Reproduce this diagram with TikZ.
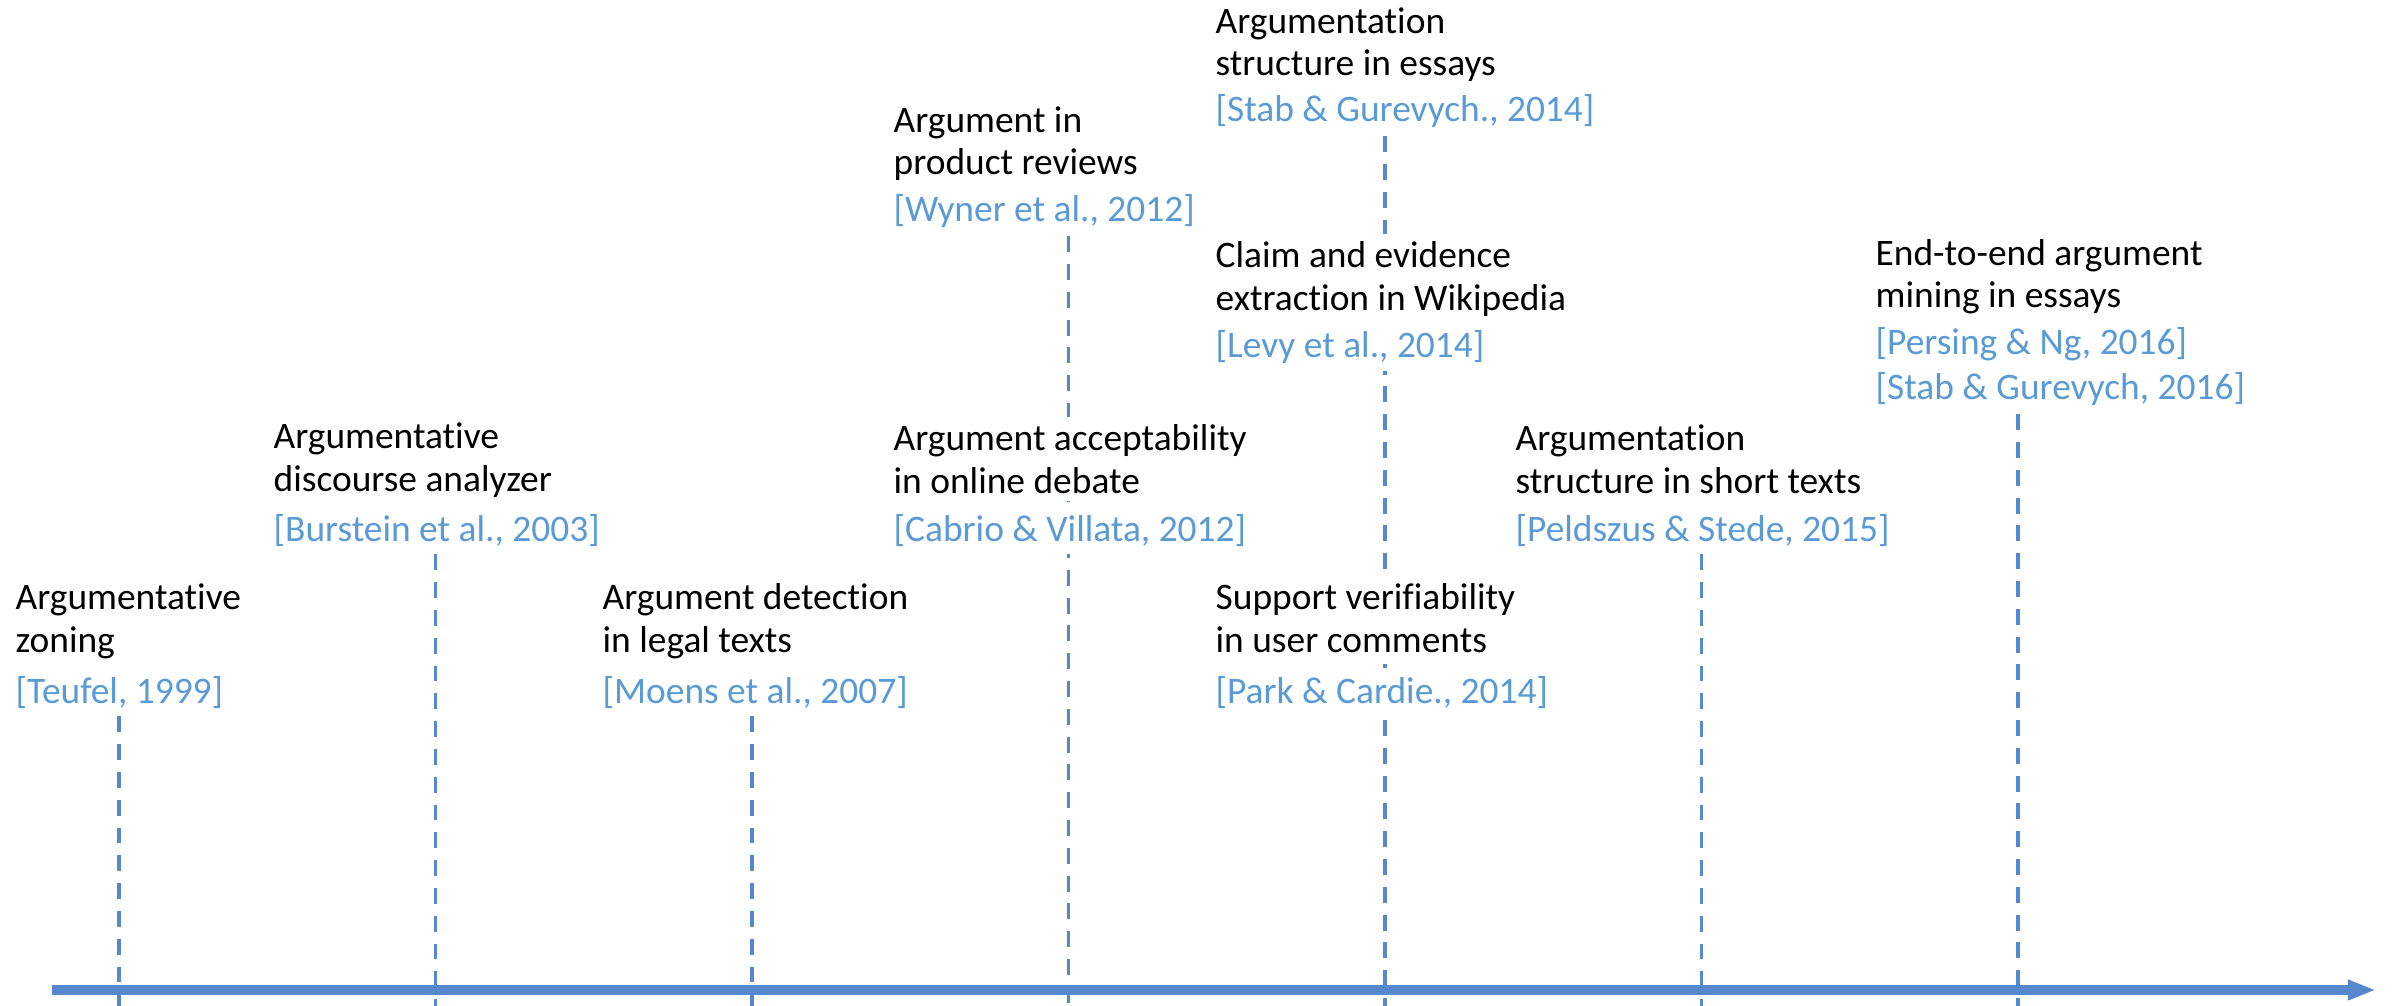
\documentclass[tikz,border=0pt]{standalone}
\usepackage{fontspec}
\setmainfont{Carlito}[Ligatures=NoCommon]
\usetikzlibrary{arrows.meta,backgrounds}
\definecolor{lineblue}{HTML}{5588CC}
\definecolor{citeblue}{HTML}{5B9BD5}
\tikzset{
  topic/.style={anchor=base west, align=left, fill=white, inner xsep=1pt,
    inner ysep=2.5pt, font=\fontsize{12.25pt}{13.75pt}\selectfont},
  citation/.style={topic, text=citeblue},
  yearline/.style={lineblue, line width=1.2pt, dash pattern=on 5.2pt off 3.9pt},
  timeline/.style={lineblue, line width=3.3pt, -{Triangle[length=9.2pt,width=6.2pt]}}
}
\begin{document}
\begin{tikzpicture}[x=0.32735pt, y=-0.32735pt]
    \useasboundingbox (0,0) rectangle (2395,1006);
    % one mark per step on the time axis
    \coordinate (m1) at (119,1006);
    \coordinate (m2) at (435.5,1006);
    \coordinate (m3) at (752,1006);
    \coordinate (m4) at (1068.5,1006);
    \coordinate (m5) at (1385,1006);
    \coordinate (m6) at (1701.5,1006);
    \coordinate (m7) at (2018,1006);
    \coordinate (start) at (52,990);
    \coordinate (end) at (2376,990);
    % first step (base = last line)
    \node[topic] (zoning) at (12,652) {Argumentative\\zoning};
    \node[citation] (teufel) at (12,703) {[Teufel, 1999]};
    % second step
    \node[topic] (discourse) at (270,491) {Argumentative\\discourse analyzer};
    \node[citation] (burstein) at (270,541) {[Burstein et al., 2003]};
    % third step
    \node[topic] (legal) at (599,652) {Argument detection\\in legal texts};
    \node[citation] (moens) at (599,703) {[Moens et al., 2007]};
    % fourth step: two works
    \node[topic] (reviews) at (890,175) {Argument in\\product reviews};
    \node[citation] (wyner) at (890,222) {[Wyner et al., 2012]};
    \node[topic] (debate) at (890,493) {Argument acceptability\\in online debate};
    \node[citation] (cabrio) at (890,541) {[Cabrio \& Villata, 2012]};
    % fifth step: three works
    \node[topic] (essays) at (1212,76) {Argumentation\\structure in essays};
    \node[citation] (stab) at (1212,122) {[Stab \& Gurevych., 2014]};
    \node[topic] (wiki) at (1212,310) {Claim and evidence\\extraction in Wikipedia};
    \node[citation] (levy) at (1212,357) {[Levy et al., 2014]};
    \node[topic] (comments) at (1212,652) {Support verifiability\\in user comments};
    \node[citation] (park) at (1212,703) {[Park \& Cardie., 2014]};
    % sixth step
    \node[topic] (shorttexts) at (1512,493) {Argumentation\\structure in short texts};
    \node[citation] (peldszus) at (1512,541) {[Peldszus \& Stede, 2015]};
    % seventh step
    \node[topic] (endtoend) at (1872,308) {End-to-end argument\\mining in essays};
    \node[citation] (persing) at (1872,400) {[Persing \& Ng, 2016]\\[1pt][Stab \& Gurevych, 2016]};
    % dashed marks behind the texts, then the axis
    \begin{scope}[on background layer]
      \draw[yearline] (teufel.south -| m1) -- (m1);
      \draw[yearline] (burstein.south -| m2) -- (m2);
      \draw[yearline] (moens.south -| m3) -- (m3);
      \draw[yearline] (wyner.south -| m4) -- (m4);
      \draw[yearline] (stab.south -| m5) -- (m5);
      \draw[yearline] (peldszus.south -| m6) -- (m6);
      \draw[yearline] (persing.south -| m7) -- (m7);
      \draw[timeline] (start) -- (end);
    \end{scope}
\end{tikzpicture}
\end{document}
